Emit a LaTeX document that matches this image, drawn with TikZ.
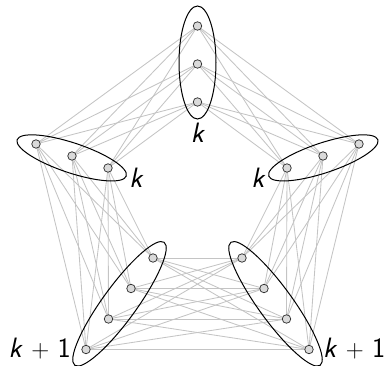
\documentclass[tikz,border=0pt]{standalone}
\usetikzlibrary{calc}
\definecolor{edgegray}{RGB}{196,196,196}
\definecolor{vfill}{RGB}{218,218,218}
\tikzset{
  vtx/.style={circle,draw=black!80,fill=vfill,line width=0.75pt,inner sep=0pt,minimum size=8.5pt},
  edg/.style={draw=edgegray,line width=0.85pt},
  grp/.style={draw=black,line width=1pt},
  lbl/.style={font=\fontsize{28}{32}\selectfont\sffamily,inner sep=0pt}
}
\newcommand{\kk}{\textsl{k}}
\newcommand{\kpo}{\kk\hspace{0.3em}$+$\hspace{0.3em}1}
\begin{document}
\begin{tikzpicture}[x=1pt,y=-1pt]
\useasboundingbox (0,0) rectangle (386,366);
% vertices (coordinates)
\coordinate (T1) at (197.5,26);
\coordinate (T2) at (197.5,64);
\coordinate (T3) at (197.5,102);
\coordinate (L1) at (36,144);
\coordinate (L2) at (72,156);
\coordinate (L3) at (108,168);
\coordinate (R1) at (359,144);
\coordinate (R2) at (323,156);
\coordinate (R3) at (287,168);
\coordinate (A1) at (153,258);
\coordinate (A2) at (131,288.5);
\coordinate (A3) at (108.5,319);
\coordinate (A4) at (86,349.5);
\coordinate (B1) at (242,258);
\coordinate (B2) at (264,288.5);
\coordinate (B3) at (286.5,319);
\coordinate (B4) at (309,349.5);
% edges
\foreach \u in {T1,T2,T3}{\foreach \v in {L1,L2,L3,R1,R2,R3}{\draw[edg] (\u) -- (\v);}}
\foreach \u in {L1,L2,L3}{\foreach \v in {A1,A2,A3,A4}{\draw[edg] (\u) -- (\v);}}
\foreach \u in {R1,R2,R3}{\foreach \v in {B1,B2,B3,B4}{\draw[edg] (\u) -- (\v);}}
\foreach \u in {A1,A2,A3,A4}{\foreach \v in {B1,B2,B3,B4}{\draw[edg] (\u) -- (\v);}}
% group ellipses
\coordinate (cT) at (197.5,62.5);
\coordinate (cL) at (71.7,157.9);
\coordinate (cR) at (323.3,157.9);
\coordinate (cA) at (119.5,303.8);
\coordinate (cB) at (275.5,303.8);
\draw[grp] (cT) ellipse [x radius=18.5pt, y radius=56.5pt];
\draw[grp,rotate around={-18.4:(cL)}] (cL) ellipse [x radius=57.5pt, y radius=15pt];
\draw[grp,rotate around={18.4:(cR)}] (cR) ellipse [x radius=57.5pt, y radius=15pt];
\draw[grp,rotate around={54:(cA)}] (cA) ellipse [x radius=76pt, y radius=17pt];
\draw[grp,rotate around={-54:(cB)}] (cB) ellipse [x radius=76pt, y radius=17pt];
% vertex nodes
\foreach \p in {T1,T2,T3,L1,L2,L3,R1,R2,R3,A1,A2,A3,A4,B1,B2,B3,B4}{\node[vtx] (v\p) at (\p) {};}
% labels
\node[lbl,anchor=base] (kT) at (198,143) {\kk};
\node[lbl,anchor=base] (kL) at (136.5,188) {\kk};
\node[lbl,anchor=base] (kR) at (258.5,188) {\kk};
\node[lbl,anchor=base east] (kA) at (71,358) {\kpo};
\node[lbl,anchor=base east] (kB) at (385.5,358) {\kpo};
\end{tikzpicture}
\end{document}
